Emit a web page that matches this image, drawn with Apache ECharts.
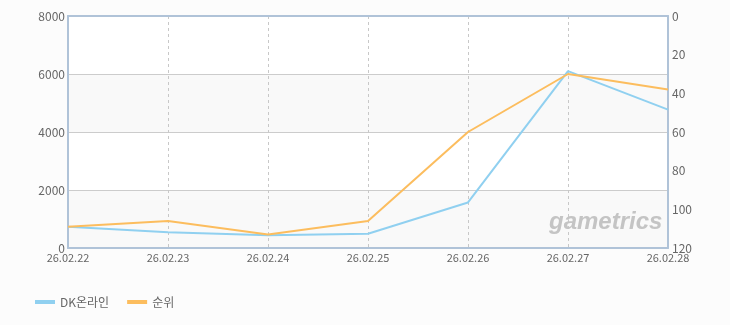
<!DOCTYPE html>
<html><head><meta charset="utf-8">
<script src="https://cdn.jsdelivr.net/npm/echarts@6/dist/echarts.min.js"></script>
<style>html,body{margin:0;padding:0;background:#fcfcfc;}#c{width:730px;height:325px;}</style>
</head><body><div id="c"></div>
<script>
var categories = ['26.02.22','26.02.23','26.02.24','26.02.25','26.02.26','26.02.27','26.02.28'];
var dkValues = [730, 540, 440, 490, 1570, 6100, 4770];
var rankValues = [109, 106, 113, 106, 60, 30, 38];
var leftTicks = [0, 2000, 4000, 6000, 8000];
var rightTicks = [0, 20, 40, 60, 80, 100, 120];
var seriesNames = ['DK온라인', '순위'];

var font = "'Noto Sans CJK KR', 'DejaVu Sans', sans-serif";
var border = {show: true, lineStyle: {color: '#b0c3d8', width: 2}};
var chart = echarts.init(document.getElementById('c'));
chart.setOption({
  backgroundColor: '#fcfcfc',
  animation: false,
  textStyle: {fontFamily: font},
  grid: {left: 68, right: 62, top: 16, bottom: 77},
  legend: {left: 30, top: 291, itemWidth: 20, itemHeight: 4, itemGap: 18, icon: 'rect',
    textStyle: {color: '#666', fontSize: 12, fontFamily: font},
    data: seriesNames},
  xAxis: [
    {type: 'category', data: categories, boundaryGap: false,
     axisLine: border, axisTick: {show: false},
     axisLabel: {color: '#666', fontSize: 11, margin: 4, fontFamily: font, interval: 0},
     splitLine: {show: true, lineStyle: {color: '#c8c8c8', type: [3, 3]}}},
    {type: 'category', data: categories, boundaryGap: false, position: 'top',
     axisLine: border, axisTick: {show: false}, axisLabel: {show: false}, splitLine: {show: false}}
  ],
  yAxis: [
    {type: 'value', min: leftTicks[0], max: leftTicks[leftTicks.length-1], interval: 2000,
     axisLine: border, axisTick: {show: false},
     axisLabel: {color: '#666', fontSize: 12, margin: 3, fontFamily: font, formatter: function(v){return String(v);}},
     splitLine: {lineStyle: {color: '#cccccc'}},
     splitArea: {show: true, areaStyle: {color: ['#f9f9f9', '#ffffff']}}},
    {type: 'value', min: rightTicks[0], max: rightTicks[rightTicks.length-1], interval: 20, inverse: true, position: 'right',
     axisLine: border, axisTick: {show: false},
     axisLabel: {color: '#666', fontSize: 12, margin: 4, fontFamily: font},
     splitLine: {show: false}}
  ],
  graphic: [{type: 'text', left: 549, top: 210, z: 1,
    style: {text: 'gametrics', fill: '#c4c4c4', font: 'italic bold 24px "Liberation Sans", sans-serif'}}],
  series: [
    {name: seriesNames[0], type: 'line', data: dkValues, yAxisIndex: 0, showSymbol: false, symbol: 'none',
     itemStyle: {color: '#90d0f0'}, lineStyle: {width: 2, color: '#90d0f0'}},
    {name: seriesNames[1], type: 'line', data: rankValues, yAxisIndex: 1, showSymbol: false, symbol: 'none',
     itemStyle: {color: '#fcbd5e'}, lineStyle: {width: 2, color: '#fcbd5e'}}
  ]
});
</script></body></html>
